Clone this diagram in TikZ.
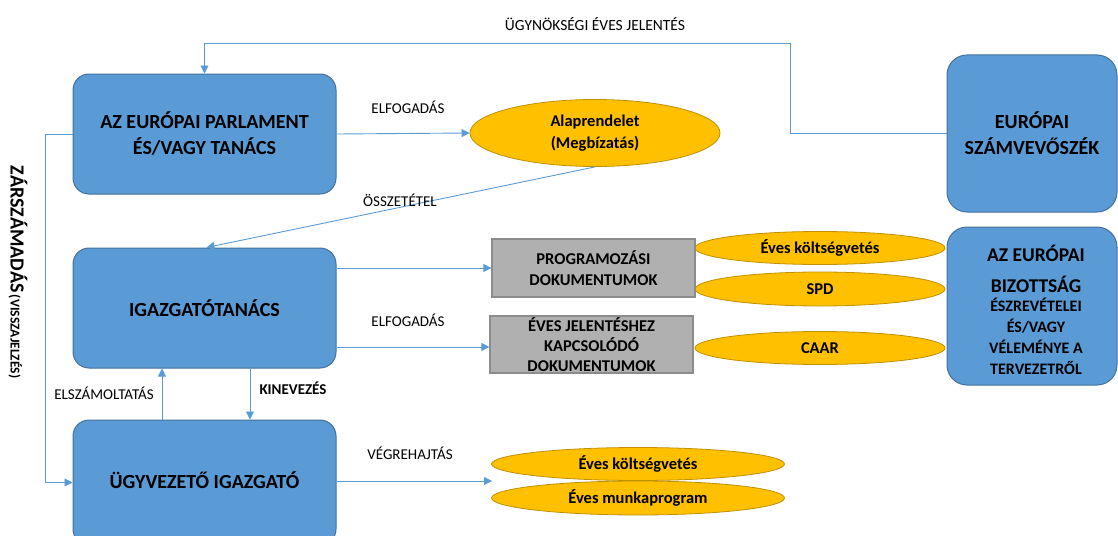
\documentclass[tikz,border=0pt]{standalone}
\usepackage{fontspec}
\setmainfont{Carlito}
\usetikzlibrary{arrows.meta,shapes.geometric,calc}
\definecolor{bfill}{HTML}{5B9BD5}
\definecolor{bdraw}{HTML}{41719C}
\definecolor{yfill}{HTML}{FFC000}
\definecolor{ydraw}{HTML}{BF9000}
\definecolor{gfill}{HTML}{B0B0B0}
\definecolor{gdraw}{HTML}{8C8C8C}
\definecolor{lcol}{HTML}{5B9BD5}
\tikzset{
  bluebox/.style={draw=bdraw, fill=bfill, line width=1pt, rounded corners=16pt, inner sep=0pt, align=center, font=\fontsize{20}{26}\selectfont\bfseries},
  graybox/.style={draw=gdraw, fill=gfill, line width=1.2pt, inner sep=0pt, align=center, font=\fontsize{16.5}{21.5}\selectfont\bfseries},
  yell/.style={ellipse, draw=ydraw, fill=yfill, line width=0.8pt, inner sep=0pt, align=center, font=\fontsize{16.5}{22}\selectfont\bfseries},
  arr/.style={draw=lcol, line width=0.9pt, -{Triangle[length=8pt,width=8pt]}},
  lbl/.style={font=\fontsize{15}{17}\selectfont, inner sep=0pt}
}
\begin{document}
\begin{tikzpicture}[x=1pt,y=-1pt]
\useasboundingbox (0,0) rectangle (1118,535);
\clip (0,0) rectangle (1118,535);

% main boxes
\node[bluebox, minimum width=263pt, minimum height=120pt] (ep) at (204.5,134) {AZ EURÓPAI PARLAMENT\\ÉS/VAGY TANÁCS};
\node[bluebox, minimum width=263pt, minimum height=120pt] (igt) at (204.5,308) {IGAZGATÓTANÁCS};
\node[bluebox, minimum width=263pt, minimum height=125pt] (ugy) at (204.5,482.5) {};
\node[font=\fontsize{20}{24}\selectfont\bfseries, inner sep=0pt] (ugyt) at (204.5,480) {ÜGYVEZETŐ IGAZGATÓ};
\node[bluebox, minimum width=170pt, minimum height=157pt, rounded corners=20pt] (szv) at (1032,133.5) {EURÓPAI\\SZÁMVEVŐSZÉK};
\node[bluebox, minimum width=170pt, minimum height=158pt, rounded corners=20pt] (biz) at (1032,306) {};
\node[inner sep=0pt, align=center, font=\bfseries\fontsize{19.5}{21}\selectfont] (bizt) at (1036,310) {%
  AZ EURÓPAI\\[10pt]
  BIZOTTSÁG\\[-2pt]
  \fontsize{16}{21.5}\selectfont ÉSZREVÉTELEI\\\fontsize{16}{21.5}\selectfont ÉS/VAGY\\\fontsize{16}{21.5}\selectfont VÉLEMÉNYE A\\\fontsize{16}{21.5}\selectfont TERVEZETRŐL};

% ellipses
\node[yell, minimum width=250pt, minimum height=67pt] (alap) at (595,133) {Alaprendelet\\(Megbízatás)};
\node[yell, minimum width=250pt, minimum height=33pt] (ek1) at (820,248) {Éves költségvetés};
\node[yell, minimum width=250pt, minimum height=34pt] (spd) at (820,289) {SPD};
\node[yell, minimum width=250pt, minimum height=33pt] (caar) at (820,348) {CAAR};
\node[yell, minimum width=293pt, minimum height=33pt] (ek2) at (638,464) {Éves költségvetés};
\node[yell, minimum width=293pt, minimum height=34pt] (munk) at (638,498) {Éves munkaprogram};

% gray boxes
\node[graybox, minimum width=203pt, minimum height=58pt] (prog) at (593.5,268) {PROGRAMOZÁSI\\DOKUMENTUMOK};
\node[graybox, minimum width=203pt, minimum height=57pt, font=\fontsize{16.5}{20}\selectfont\bfseries] (ej) at (591.5,344.5) {ÉVES JELENTÉSHEZ\\KAPCSOLÓDÓ\\DOKUMENTUMOK};

% coordinates
\coordinate (tA) at (790,43);
\coordinate (lf) at (45,134);
\coordinate (vt) at (492,481);

% connectors
\draw[arr] (szv.west) -| (tA) -| (ep.north);
\draw[arr] (ep.east) -- (alap.west);
\draw[arr] (alap.south) -- ([xshift=2pt]igt.north);
\draw[arr] (ep.west) -- (lf) |- (ugy.west);
\draw[arr] (igt.east |- prog.west) -- (prog.west);
\draw[arr] ($(igt.east |- ej.west)+(0,2.5)$) -- ($(ej.west)+(0,2.5)$);
\draw[arr] ([xshift=-42.5pt]ugy.north) -- ([xshift=-42.5pt]igt.south);
\draw[arr] ([xshift=45.5pt]igt.south) -- ([xshift=45.5pt]ugy.north);
\draw[arr] (ugy.east |- vt) -- (vt);

% labels
\node[lbl, font=\fontsize{15.5}{17}\selectfont] (l1) at (595,24) {ÜGYNÖKSÉGI ÉVES JELENTÉS};
\node[lbl] (l2) at (408,107) {ELFOGADÁS};
\node[lbl] (l3) at (400,200) {ÖSSZETÉTEL};
\node[lbl] (l4) at (408,320) {ELFOGADÁS};
\node[lbl] (l5) at (104,393) {ELSZÁMOLTATÁS};
\node[lbl, font=\fontsize{15}{17}\selectfont\bfseries] (l6) at (293,388) {KINEVEZÉS};
\node[lbl] (l7) at (410,453) {VÉGREHAJTÁS};
\node[inner sep=0pt, rotate=-90, font=\bfseries] (vert) at (18,272) {{\fontsize{20}{22}\selectfont ZÁRSZÁMADÁS} {\fontsize{13.5}{15}\selectfont (VISSZAJELZÉS)}};
\end{tikzpicture}
\end{document}
